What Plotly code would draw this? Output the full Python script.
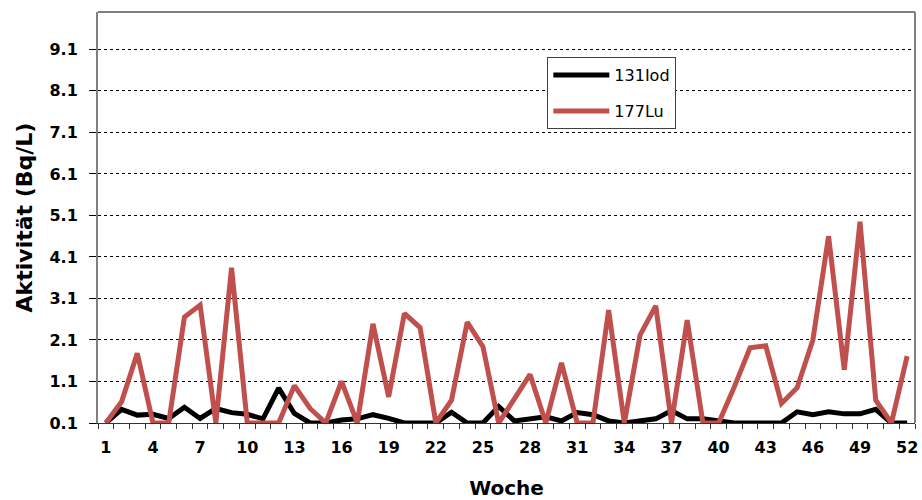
import plotly.graph_objects as go

weeks = list(range(1, 53))

iod_131 = [0.1, 0.43, 0.29, 0.31, 0.21, 0.48, 0.21, 0.45, 0.35, 0.31,
           0.2, 0.94, 0.33, 0.1, 0.1, 0.17, 0.2, 0.3, 0.21, 0.1,
           0.1, 0.1, 0.36, 0.1, 0.1, 0.5, 0.15, 0.2, 0.25, 0.15,
           0.35, 0.3, 0.15, 0.1, 0.15, 0.2, 0.4, 0.2, 0.2, 0.15,
           0.1, 0.1, 0.1, 0.1, 0.37, 0.3, 0.37, 0.32, 0.32, 0.43,
           0.1, 0.1]

lu_177 = [0.1, 0.61, 1.78, 0.1, 0.1, 2.65, 2.94, 0.1, 3.84, 0.1,
          0.1, 0.1, 1.0, 0.45, 0.1, 1.1, 0.1, 2.49, 0.73, 2.74,
          2.4, 0.1, 0.65, 2.53, 1.94, 0.1, 0.68, 1.27, 0.1, 1.55,
          0.1, 0.1, 2.82, 0.1, 2.22, 2.92, 0.1, 2.58, 0.1, 0.1,
          0.97, 1.91, 1.96, 0.57, 0.95, 2.1, 4.6, 1.38, 4.95, 0.65,
          0.1, 1.71]

y_ticks = [0.1, 1.1, 2.1, 3.1, 4.1, 5.1, 6.1, 7.1, 8.1, 9.1]
x_ticks = list(range(1, 53, 3))

FONT = "DejaVu Sans, Arial, sans-serif"

fig = go.Figure()
fig.add_trace(go.Scatter(x=weeks, y=iod_131, mode="lines", name="131Iod",
                         legendgroup="a",
                         line={"color": "black", "width": 5}))
fig.add_trace(go.Scatter(x=weeks, y=lu_177, mode="lines", name="177Lu",
                         legendgroup="b",
                         line={"color": "#C0504D", "width": 5}))

fig.update_layout(
    width=922, height=500,
    margin={"l": 98, "r": 7, "t": 12, "b": 77},
    plot_bgcolor="white", paper_bgcolor="white",
    font={"family": FONT, "color": "black"},
    legend={"x": 0.55, "y": 0.89, "xanchor": "left", "yanchor": "top",
            "bordercolor": "#404040", "borderwidth": 1, "bgcolor": "white",
            "font": {"size": 16}, "tracegroupgap": 12, "itemwidth": 56},
    showlegend=True,
)

fig.update_xaxes(
    range=[0.5, 52.5], tickvals=x_ticks, ticks="", showgrid=False,
    tickfont={"size": 16, "weight": "bold"}, ticklabelstandoff=10,
    showline=True, linecolor="#333333", linewidth=1, mirror=False,
    zeroline=False, automargin=False,
    minor={"tick0": 0.5, "dtick": 1, "ticks": "outside", "ticklen": 5,
           "tickcolor": "#333333", "showgrid": False},
    title={"text": "Woche", "font": {"size": 20, "weight": "bold"},
           "standoff": 31},
)
fig.update_yaxes(
    range=[0.1, 10.0], tickvals=y_ticks, ticktext=[f"{v:.1f}" for v in y_ticks],
    ticks="outside", ticklen=7, tickcolor="black", ticklabelstandoff=8,
    tickfont={"size": 16, "weight": "bold"},
    showgrid=True, gridcolor="black", griddash="dot", gridwidth=1,
    showline=True, linecolor="#808080", linewidth=2, zeroline=False,
    automargin=False,
    title={"text": "Aktivität (Bq/L)", "font": {"size": 22, "weight": "bold"},
           "standoff": 11},
)

# gray frame on top and right like the original chart area
fig.add_shape(type="line", xref="paper", yref="paper", x0=0, x1=1, y0=1, y1=1,
              line={"color": "#808080", "width": 2})
fig.add_shape(type="line", xref="paper", yref="paper", x0=1, x1=1, y0=0, y1=1,
              line={"color": "#808080", "width": 2})

# drop the default 8px page margin so the figure fills the window
fig.write_html("out.html",
               config={"displayModeBar": False},
               post_script="document.body.style.margin='0';"
                           "document.body.style.overflow='hidden';")
